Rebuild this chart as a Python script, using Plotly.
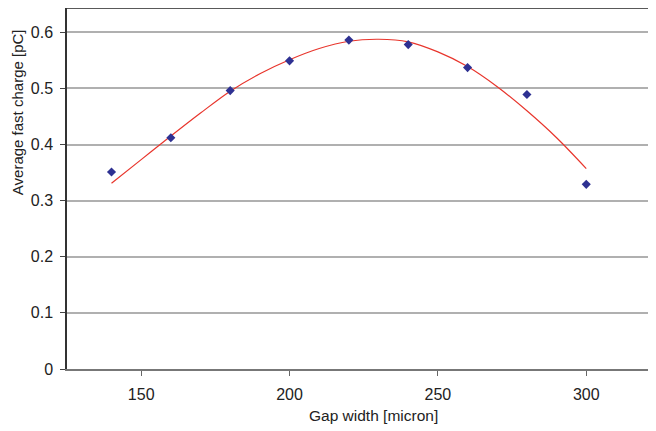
import plotly.graph_objects as go

# measured points
gap_width = [140, 160, 180, 200, 220, 240, 260, 280, 300]
fast_charge = [0.351, 0.412, 0.496, 0.549, 0.586, 0.578, 0.537, 0.489, 0.329]

# trend curve
trend_x = [140, 150, 160, 170, 180, 190, 200, 210, 220, 230, 240, 250, 260, 270, 280, 290, 300]
trend_y = [0.331, 0.373, 0.415, 0.456, 0.495, 0.526, 0.551, 0.571, 0.584, 0.5875, 0.583,
           0.565, 0.539, 0.503, 0.460, 0.412, 0.357]

x_ticks = [150, 200, 250, 300]
y_ticks = [0, 0.1, 0.2, 0.3, 0.4, 0.5, 0.6]
y_tick_labels = ["0", "0.1", "0.2", "0.3", "0.4", "0.5", "0.6"]

FONT = "Liberation Sans, Arial, Helvetica, sans-serif"

fig = go.Figure()
fig.add_trace(go.Scatter(x=trend_x, y=trend_y, mode="lines", line=dict(color="#e8352c", width=1.2, shape="spline"),
                         showlegend=False, hoverinfo="skip"))
fig.add_trace(go.Scatter(x=gap_width, y=fast_charge, mode="markers",
                         marker=dict(symbol="diamond", size=7, color="#2e3192"), showlegend=False))

fig.update_layout(
    width=656, height=431,
    margin=dict(l=59, r=0, t=0, b=69.5, autoexpand=False),
    paper_bgcolor="white", plot_bgcolor="white",
    font=dict(family=FONT, size=16, color="#222222"),
    xaxis=dict(range=[125, 326.2], tickvals=x_ticks, ticks="outside", ticklen=5, tickcolor="#666666",
               showline=True, linecolor="#777777", linewidth=1.5, showgrid=False, zeroline=False,
               tickfont=dict(size=16), ticklabelstandoff=5),
    yaxis=dict(range=[0, 0.6432], tickvals=y_ticks, ticktext=y_tick_labels, ticks="outside", ticklen=5,
               tickcolor="#444444", showline=True, linecolor="#333333", linewidth=1.5,
               showgrid=True, gridcolor="#b0b0b0", gridwidth=1.5, zeroline=False,
               tickfont=dict(size=16), ticklabelstandoff=4),
    shapes=[dict(type="line", xref="paper", yref="paper", x0=0, x1=1, y0=1, y1=1,
                 line=dict(color="#222222", width=1.5))],
    annotations=[
        dict(text="Gap width [micron]", xref="paper", yref="paper", x=0.5126, y=-0.1286,
             xanchor="center", yanchor="middle", showarrow=False, font=dict(size=15.5)),
        dict(text="Average fast charge [pC]", xref="paper", yref="paper", x=-0.0975, y=0.7123,
             xanchor="left", yanchor="middle", textangle=-90, showarrow=False, borderpad=0,
             font=dict(size=15)),
    ],
)

fig.write_html("out.html")
